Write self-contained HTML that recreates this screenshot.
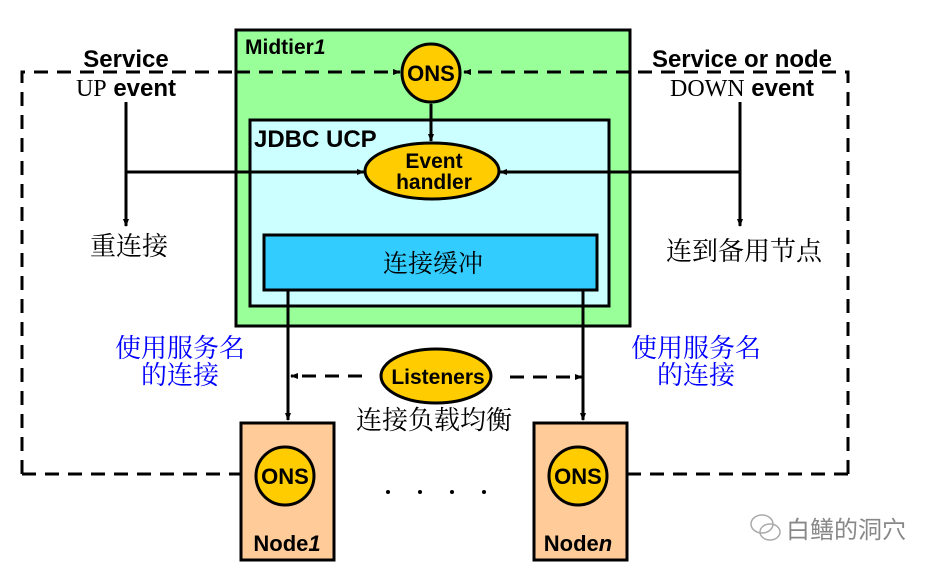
<!DOCTYPE html>
<html><head><meta charset="utf-8"><style>
body{margin:0;background:#fff}
svg text{font-family:"Liberation Sans","Noto Sans CJK SC",sans-serif}
svg text.cn{font-family:"Noto Serif CJK SC","Liberation Serif",serif}
</style></head><body>
<svg width="927" height="571" viewBox="0 0 927 571" xmlns="http://www.w3.org/2000/svg">
<defs><marker id="a" markerWidth="8" markerHeight="8" refX="7" refY="4" orient="auto" markerUnits="userSpaceOnUse"><path d="M0,1 L8,4 L0,7z" fill="#000"/></marker></defs>
<g stroke="#000" stroke-width="3" stroke-dasharray="14,9" fill="none">
<path d="M22,474 V72 H236"/>
<path d="M848,474 V72 H630"/>
<path d="M22,474 H255" marker-end="url(#a)"/>
<path d="M848,474 H608" marker-end="url(#a)"/>
</g>
<rect x="236" y="30" width="394" height="296" fill="#99ff99" stroke="#000" stroke-width="3"/>
<g stroke="#000" stroke-width="3" stroke-dasharray="14,9" fill="none">
<path d="M236,72 H400" marker-end="url(#a)"/>
<path d="M630,72 H464" marker-end="url(#a)"/>
</g>
<rect x="250" y="120" width="359" height="186" fill="#ccffff" stroke="#000" stroke-width="3"/>
<rect x="264" y="235" width="333" height="55" fill="#33ccff" stroke="#000" stroke-width="3"/>
<text x="433" y="272" font-size="25" text-anchor="middle" class="cn">连接缓冲</text>
<text x="245" y="54" font-size="21" font-weight="bold">Midtier<tspan font-style="italic">1</tspan></text>
<text x="254" y="147" font-size="24" font-weight="bold">JDBC UCP</text>
<line x1="431" y1="104" x2="431" y2="141" stroke="#000" stroke-width="3" marker-start="url(#a)" marker-end="url(#a)"/>
<circle cx="431" cy="73" r="29" fill="#ffcc00" stroke="#000" stroke-width="3"/>
<text x="431" y="81" font-size="22" font-weight="bold" text-anchor="middle">ONS</text>
<ellipse cx="432" cy="171" rx="67" ry="28" fill="#ffcc00" stroke="#000" stroke-width="3"/>
<text x="434" y="168" font-size="21" font-weight="bold" text-anchor="middle">Event</text>
<text x="434" y="189" font-size="21" font-weight="bold" text-anchor="middle">handler</text>
<g stroke="#000" stroke-width="3" fill="none">
<path d="M126,102 V226" marker-end="url(#a)"/>
<path d="M126,172 H364" marker-end="url(#a)"/>
<path d="M740,102 V226" marker-end="url(#a)"/>
<path d="M740,172 H500" marker-end="url(#a)"/>
<path d="M288,290 V420" marker-end="url(#a)"/>
<path d="M583,290 V420" marker-end="url(#a)"/>
</g>
<rect x="76" y="46" width="100" height="22" fill="#fff"/>
<rect x="638" y="46" width="206" height="22" fill="#fff"/>
<text x="126" y="67" font-size="24" font-weight="bold" text-anchor="middle">Service</text>
<text x="126" y="96" font-size="24" font-weight="bold" text-anchor="middle"><tspan font-family="Liberation Serif" font-weight="normal">UP</tspan> event</text>
<text x="742" y="67" font-size="24" font-weight="bold" text-anchor="middle">Service or node</text>
<text x="742" y="96" font-size="24" font-weight="bold" text-anchor="middle"><tspan font-family="Liberation Serif" font-weight="normal">DOWN</tspan> event</text>
<text x="129" y="255" font-size="26" text-anchor="middle" class="cn">重连接</text>
<text x="744" y="260" font-size="26" text-anchor="middle" class="cn">连到备用节点</text>
<text x="180" y="357" font-size="26" fill="#0000ff" text-anchor="middle" class="cn">使用服务名</text>
<text x="180" y="384" font-size="26" fill="#0000ff" text-anchor="middle" class="cn">的连接</text>
<text x="696" y="357" font-size="26" fill="#0000ff" text-anchor="middle" class="cn">使用服务名</text>
<text x="696" y="384" font-size="26" fill="#0000ff" text-anchor="middle" class="cn">的连接</text>
<g stroke="#000" stroke-width="3" stroke-dasharray="14,9" fill="none">
<path d="M362,376 H291" marker-end="url(#a)"/>
<path d="M510,377 H582" marker-end="url(#a)"/>
</g>
<ellipse cx="436" cy="376" rx="55" ry="27" fill="#ffcc00" stroke="#000" stroke-width="3"/>
<text x="438" y="384" font-size="21" font-weight="bold" text-anchor="middle">Listeners</text>
<text x="434" y="429" font-size="26" text-anchor="middle" class="cn">连接负载均衡</text>
<rect x="241" y="423" width="93" height="137" fill="#ffcc99" stroke="#000" stroke-width="3"/>
<rect x="534" y="423" width="93" height="137" fill="#ffcc99" stroke="#000" stroke-width="3"/>
<circle cx="285" cy="476" r="29" fill="#ffcc00" stroke="#000" stroke-width="3"/>
<text x="285" y="484" font-size="22" font-weight="bold" text-anchor="middle">ONS</text>
<circle cx="578" cy="476" r="29" fill="#ffcc00" stroke="#000" stroke-width="3"/>
<text x="578" y="484" font-size="22" font-weight="bold" text-anchor="middle">ONS</text>
<text x="287" y="551" font-size="22" font-weight="bold" text-anchor="middle">Node<tspan font-style="italic">1</tspan></text>
<text x="578" y="551" font-size="22" font-weight="bold" text-anchor="middle">Node<tspan font-style="italic">n</tspan></text>
<g fill="#000"><circle cx="388" cy="492" r="2"/><circle cx="420" cy="492" r="2"/><circle cx="452" cy="492" r="2"/><circle cx="484" cy="492" r="2"/></g>
<g fill="none" stroke="#aaa" stroke-width="1.5"><ellipse cx="762" cy="524" rx="11" ry="9"/><ellipse cx="770" cy="532" rx="10" ry="8"/></g>
<text x="786" y="538" font-size="24" fill="#888">白鳝的洞穴</text>
</svg>
</body></html>
